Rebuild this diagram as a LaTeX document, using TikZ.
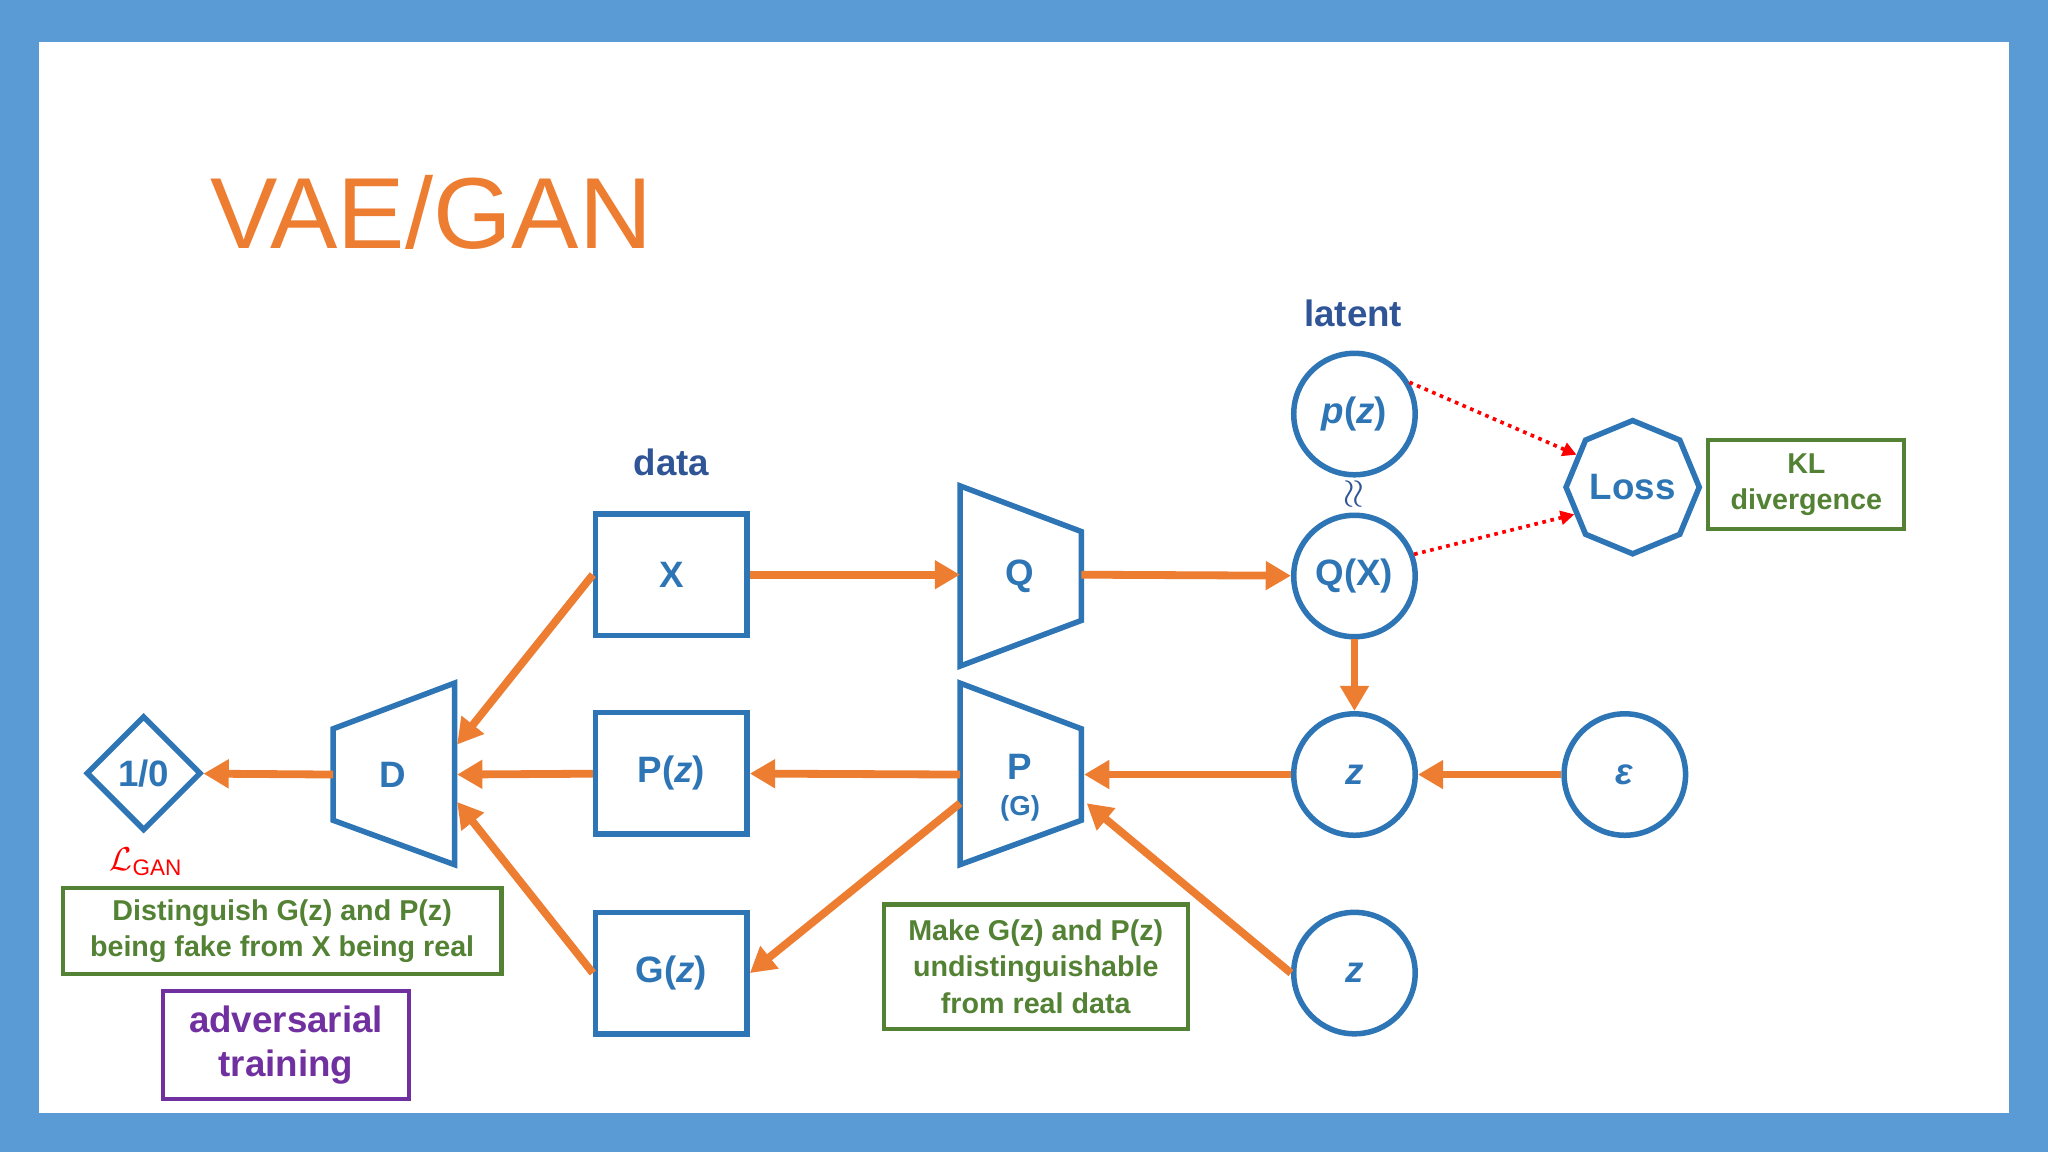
\documentclass[tikz,border=0pt]{standalone}
\usepackage{amsmath,amssymb}
\usepackage{fontspec}
\setmainfont{Liberation Sans}
\usetikzlibrary{arrows.meta,shapes.geometric}
\definecolor{frame}{HTML}{5B9BD5}
\definecolor{bl}{HTML}{2E75B6}
\definecolor{dk}{HTML}{2F5597}
\definecolor{og}{HTML}{ED7D31}
\definecolor{gr}{HTML}{548235}
\definecolor{pu}{HTML}{7030A0}
\begin{document}
\begin{tikzpicture}[x={(0.02cm,0)},y={(0,-0.02cm)},
  shp/.style={draw=bl,line width=2.4pt,text=bl,font=\fontsize{16}{18}\selectfont\bfseries},
  box/.style={shp,rectangle,minimum width=116*0.02cm,minimum height=93*0.02cm},
  circ/.style={shp,circle,minimum size=93*0.02cm,inner sep=0pt},
  note/.style={draw=gr,line width=1.8pt,text=gr,align=center,font=\fontsize{12.5}{16}\selectfont\bfseries},
  arr/.style={draw=og,line width=3.4pt,-{Triangle[length=11pt,width=12pt]}},
  dot/.style={draw=red,line width=1.6pt,dotted,-{Triangle[length=6pt,width=6pt]}}]
\fill[frame] (0,0) rectangle (1568,882);
\fill[white] (30,32) rectangle (1538,852);
\useasboundingbox (0,0) rectangle (1568,882);
\node[text=og,font=\fontsize{44}{50}\selectfont,anchor=west] (title) at (155,163) {VAE/GAN};
\node[text=dk,font=\fontsize{16}{18}\selectfont\bfseries] (lat) at (1036,240) {latent};
\node[text=dk,font=\fontsize{16}{18}\selectfont\bfseries] (dat) at (514,354) {data};
\node[box] (X) at (514,440) {X};
\node[box] (Pz) at (514,592) {P(\textit{z})};
\node[box] (Gz) at (514,745) {G(\textit{z})};
% trapezoids
\draw[shp] (735,372) -- (828,407) -- (828,475) -- (735,510) -- cycle;
\node[shp,draw=none] (Q) at (781,441) {Q};
\draw[shp] (735,523) -- (828,558) -- (828,628) -- (735,662) -- cycle;
\node[shp,draw=none,align=center,inner sep=0pt] (P) at (781,603) {P\\[-2pt]{\fontsize{12}{13}\selectfont (G)}};
\draw[shp] (348,523) -- (348,662) -- (255,628) -- (255,558) -- cycle;
\node[shp,draw=none] (D) at (301,593) {D};
\coordinate (Qin) at (735,440); \coordinate (Qout) at (828,440);
\coordinate (Pin) at (830,593); \coordinate (Pout) at (735,593);
\coordinate (Pout2) at (735,615); \coordinate (Pin2) at (832,615);
\coordinate (Din) at (350,593); \coordinate (Din1) at (350,570); \coordinate (Din2) at (350,614);
\coordinate (Dout) at (255,593);
\node[shp,diamond,minimum size=88*0.02cm,inner sep=0pt] (one) at (110,592) {1/0};
\node[circ] (pz) at (1037,317) {\textit{p}(\textit{z})};
\node[circ] (QX) at (1037,441) {Q(X)};
\node[circ] (z1) at (1037,593) {\textit{z}};
\node[circ] (eps) at (1244,593) {\textit{ε}};
\node[circ] (z2) at (1037,745) {\textit{z}};
\node[text=dk,rotate=90,font=\fontsize{16}{18}\selectfont\bfseries] (approx) at (1037,378) {$\approx$};
\node[shp,regular polygon,regular polygon sides=8,minimum size=102*0.02cm,inner sep=0pt,shape border rotate=22.5] (loss) at (1250,373) {Loss};
\node[note,minimum width=150*0.02cm,minimum height=68*0.02cm] (kl) at (1383,371) {KL\\divergence};
\node[note,minimum width=336*0.02cm,minimum height=66*0.02cm] (n1) at (216,713) {Distinguish G(z) and P(z)\\being fake from X being real};
\node[note,minimum width=233*0.02cm,minimum height=95*0.02cm] (n2) at (793,740) {Make G(z) and P(z)\\undistinguishable\\from real data};
\node[draw=pu,line width=1.8pt,text=pu,align=center,minimum width=188*0.02cm,minimum height=83*0.02cm,font=\fontsize{16}{19}\selectfont\bfseries] (adv) at (219,800) {adversarial\\training};
\node[text=red,font=\fontsize{14}{16}\selectfont] (lg) at (112,660) {$\mathcal{L}_{\mathrm{GAN}}$};
% arrows
\draw[arr] (X) -- (Qin);
\draw[arr] (Qout) -- (QX);
\draw[arr] (QX) -- (z1);
\draw[arr] (eps) -- (z1);
\draw[arr] (z1) -- (Pin);
\draw[arr] (Pout) -- (Pz);
\draw[arr] (Pz) -- (Din);
\draw[arr] (X.west) -- (Din1);
\draw[arr] (Gz.west) -- (Din2);
\draw[arr] (Pout2) -- (Gz.east);
\draw[arr] (z2.west) -- (Pin2);
\draw[arr] (Dout) -- (one);
\draw[dot] (pz.30) -- (loss.150);
\draw[dot] (QX.20) -- (loss.205);
\end{tikzpicture}
\end{document}
